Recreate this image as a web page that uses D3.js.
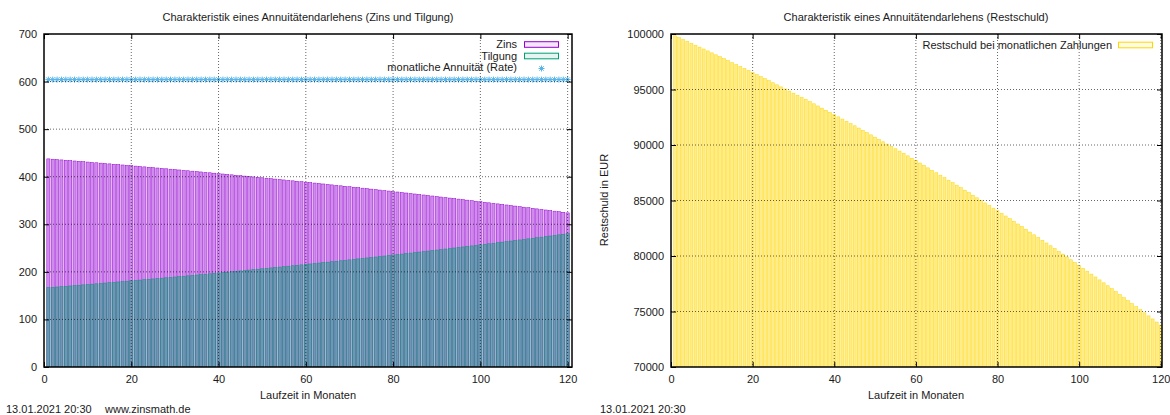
<!DOCTYPE html>
<html>
<head>
<meta charset="utf-8">
<script src="https://cdn.jsdelivr.net/npm/d3@7/dist/d3.min.js"></script>
<style>
  html, body { margin: 0; padding: 0; background: #fff; }
  svg { display: block; }
  text { font-family: "Liberation Sans", Arial, Helvetica, sans-serif; fill: #1a1a1a; }
</style>
</head>
<body>
<svg id="chart" width="1170" height="415"></svg>
<script>
// ---------------- DATA ----------------
const months = [
  1,2,3,4,5,6,7,8,9,10,11,12,13,14,15,16,17,18,19,20,
  21,22,23,24,25,26,27,28,29,30,31,32,33,34,35,36,37,38,39,40,
  41,42,43,44,45,46,47,48,49,50,51,52,53,54,55,56,57,58,59,60,
  61,62,63,64,65,66,67,68,69,70,71,72,73,74,75,76,77,78,79,80,
  81,82,83,84,85,86,87,88,89,90,91,92,93,94,95,96,97,98,99,100,
  101,102,103,104,105,106,107,108,109,110,111,112,113,114,115,116,117,118,119,120
];
const zins = [
  437.50,436.77,436.04,435.30,434.56,433.82,433.07,432.32,431.57,430.81,
  430.05,429.30,428.53,427.76,426.99,426.21,425.43,424.65,423.86,423.07,
  422.30,421.50,420.70,419.90,419.09,418.28,417.47,416.65,415.83,415.01,
  414.18,413.35,412.52,411.68,410.84,409.99,409.14,408.29,407.43,406.57,
  405.70,404.83,403.96,403.08,402.20,401.32,400.43,399.54,398.64,397.74,
  396.85,395.94,395.03,394.12,393.20,392.28,391.35,390.42,389.49,388.55,
  387.60,386.65,385.70,384.74,383.78,382.82,381.85,380.88,379.90,378.92,
  377.93,376.94,375.95,374.95,373.95,372.94,371.93,370.91,369.89,368.86,
  367.84,366.81,365.77,364.73,363.68,362.63,361.57,360.51,359.44,358.37,
  357.29,356.21,355.12,354.03,352.94,351.84,350.74,349.63,348.52,347.40,
  346.28,345.15,344.02,342.88,341.74,340.59,339.44,338.28,337.12,335.95,
  334.77,333.59,332.41,331.22,330.03,328.83,327.62,326.41,325.20,323.98
];
const tilgung = [
  166.67,167.40,168.13,168.87,169.61,170.35,171.10,171.85,172.60,173.36,
  174.12,174.87,175.64,176.41,177.18,177.96,178.74,179.52,180.31,181.10,
  181.87,182.67,183.47,184.27,185.08,185.89,186.70,187.52,188.34,189.16,
  189.99,190.82,191.65,192.49,193.33,194.18,195.03,195.88,196.74,197.60,
  198.47,199.34,200.21,201.09,201.97,202.85,203.74,204.63,205.53,206.43,
  207.32,208.23,209.14,210.05,210.97,211.89,212.82,213.75,214.68,215.62,
  216.57,217.52,218.47,219.43,220.39,221.35,222.32,223.29,224.27,225.25,
  226.24,227.23,228.22,229.22,230.22,231.23,232.24,233.26,234.28,235.31,
  236.33,237.36,238.40,239.44,240.49,241.54,242.60,243.66,244.73,245.80,
  246.88,247.96,249.05,250.14,251.23,252.33,253.43,254.54,255.65,256.77,
  257.89,259.02,260.15,261.29,262.43,263.58,264.73,265.89,267.05,268.22,
  269.40,270.58,271.76,272.95,274.14,275.34,276.55,277.76,278.97,280.19
];
const rate = [
  604.17,604.17,604.17,604.17,604.17,604.17,604.17,604.17,604.17,604.17,
  604.17,604.17,604.17,604.17,604.17,604.17,604.17,604.17,604.17,604.17,
  604.17,604.17,604.17,604.17,604.17,604.17,604.17,604.17,604.17,604.17,
  604.17,604.17,604.17,604.17,604.17,604.17,604.17,604.17,604.17,604.17,
  604.17,604.17,604.17,604.17,604.17,604.17,604.17,604.17,604.17,604.17,
  604.17,604.17,604.17,604.17,604.17,604.17,604.17,604.17,604.17,604.17,
  604.17,604.17,604.17,604.17,604.17,604.17,604.17,604.17,604.17,604.17,
  604.17,604.17,604.17,604.17,604.17,604.17,604.17,604.17,604.17,604.17,
  604.17,604.17,604.17,604.17,604.17,604.17,604.17,604.17,604.17,604.17,
  604.17,604.17,604.17,604.17,604.17,604.17,604.17,604.17,604.17,604.17,
  604.17,604.17,604.17,604.17,604.17,604.17,604.17,604.17,604.17,604.17,
  604.17,604.17,604.17,604.17,604.17,604.17,604.17,604.17,604.17,604.17
];
const restschuld = [
  99833,99666,99498,99329,99159,98989,98818,98646,98473,98300,
  98126,97951,97775,97599,97422,97244,97065,96886,96705,96524,
  96342,96160,95976,95792,95607,95421,95234,95047,94858,94669,
  94479,94288,94097,93904,93711,93517,93322,93126,92929,92732,
  92533,92334,92134,91932,91730,91528,91324,91119,90914,90707,
  90500,90292,90083,89873,89662,89450,89237,89023,88808,88593,
  88376,88159,87940,87721,87500,87279,87057,86833,86609,86384,
  86158,85930,85702,85473,85243,85012,84779,84546,84312,84076,
  83840,83603,83364,83125,82884,82643,82400,82157,81912,81666,
  81419,81171,80922,80672,80421,80169,79915,79661,79405,79148,
  78890,78631,78371,78110,77847,77584,77319,77053,76786,76518,
  76249,75978,75706,75433,75159,74884,74607,74329,74050,73770
];
const xTicks = [0, 20, 40, 60, 80, 100, 120];
const yTicksLeft = [0, 100, 200, 300, 400, 500, 600, 700];
const yTicksRight = [70000, 75000, 80000, 85000, 90000, 95000, 100000];

const titleLeft = "Charakteristik eines Annuitätendarlehens (Zins und Tilgung)";
const titleRight = "Charakteristik eines Annuitätendarlehens (Restschuld)";
const xLabel = "Laufzeit in Monaten";
const yLabelRight = "Restschuld in EUR";
const legendLeft = ["Zins", "Tilgung", "monatliche Annuität (Rate)"];
const legendRight = "Restschuld bei monatlichen Zahlungen";
const footerDate = "13.01.2021 20:30";
const footerUrl = "www.zinsmath.de";

// ---------------- STYLE ----------------
const C_ZINS = "#9400d3", C_TILG = "#009e73", C_RATE = "#56b4e9", C_REST = "#ffd700";
const FS = 11;
const BW = 0.72;
const SW = 0.5;

const svg = d3.select("#chart");

const starPath = "M-3,0H3M0,-3V3M-2.2,-2.2L2.2,2.2M-2.2,2.2L2.2,-2.2";

function frameAxes(g, x, y, yTicks, yFmt, L, R, T, B) {
  const grid = g.append("g").attr("stroke", "#000").attr("stroke-width", 0.8)
    .attr("stroke-dasharray", "1,2").attr("opacity", 0.75);
  xTicks.filter(v => v > x.domain()[0]).forEach(v => {
    grid.append("line").attr("x1", x(v)).attr("x2", x(v)).attr("y1", T).attr("y2", B);
  });
  yTicks.filter(v => v > y.domain()[0] && v < y.domain()[1]).forEach(v => {
    grid.append("line").attr("x1", L).attr("x2", R).attr("y1", y(v)).attr("y2", y(v));
  });
  const ax = (sel) => { sel.select(".domain").remove();
    sel.selectAll(".tick line").attr("stroke", "#000").attr("stroke-width", 1);
    sel.selectAll("text").attr("font-size", FS).attr("fill", "#1a1a1a")
       .attr("font-family", '"Liberation Sans", Arial, sans-serif'); };
  g.append("g").attr("transform", `translate(0,${B})`)
    .call(d3.axisBottom(x).tickValues(xTicks).tickSize(-5).tickPadding(8)).call(ax);
  g.append("g").attr("transform", `translate(0,${T})`)
    .call(d3.axisTop(x).tickValues(xTicks).tickSize(-5).tickFormat("")).call(ax);
  g.append("g").attr("transform", `translate(${L},0)`)
    .call(d3.axisLeft(y).tickValues(yTicks).tickSize(-5).tickPadding(7).tickFormat(yFmt)).call(ax);
  g.append("g").attr("transform", `translate(${R},0)`)
    .call(d3.axisRight(y).tickValues(yTicks).tickSize(-5).tickFormat("")).call(ax);
  g.append("rect").attr("x", L).attr("y", T).attr("width", R - L).attr("height", B - T)
    .attr("fill", "none").attr("stroke", "#000").attr("stroke-width", 1.5);
}

// ---------------- LEFT CHART ----------------
{
  const L = 44, R = 572, T = 34, B = 367;
  const x = d3.scaleLinear().domain([0, 121]).range([L, R]);
  const y = d3.scaleLinear().domain([0, 700]).range([B, T]);
  const g = svg.append("g");
  g.append("defs").append("clipPath").attr("id", "clipL")
    .append("rect").attr("x", L).attr("y", T).attr("width", R - L).attr("height", B - T);
  const plot = g.append("g").attr("clip-path", "url(#clipL)");
  const w = x(BW) - x(0);

  plot.append("g").selectAll("rect").data(months).join("rect")
    .attr("x", (m) => x(m - BW / 2)).attr("width", w)
    .attr("y", (m, i) => y(zins[i])).attr("height", (m, i) => y(0) - y(zins[i]))
    .attr("fill", C_ZINS).attr("fill-opacity", 0.45)
    .attr("stroke", C_ZINS).attr("stroke-width", SW);

  plot.append("g").selectAll("rect").data(months).join("rect")
    .attr("x", (m) => x(m - BW / 2)).attr("width", w)
    .attr("y", (m, i) => y(tilgung[i])).attr("height", (m, i) => y(0) - y(tilgung[i]))
    .attr("fill", C_TILG).attr("fill-opacity", 0.45)
    .attr("stroke", C_TILG).attr("stroke-width", SW);

  plot.append("g").selectAll("path").data(months).join("path")
    .attr("transform", (m, i) => `translate(${x(m)},${y(rate[i])})`)
    .attr("d", starPath).attr("fill", "none").attr("stroke", C_RATE).attr("stroke-width", 1);

  frameAxes(g, x, y, yTicksLeft, d3.format("d"), L, R, T, B);

  const lg = g.append("g");
  const tx = 517, bx = 524.5, bw = 34;
  const rows = [44.5, 56, 67.5];
  legendLeft.forEach((t, i) => {
    lg.append("text").attr("x", tx).attr("y", rows[i]).attr("dy", "0.35em")
      .attr("text-anchor", "end").attr("font-size", FS).text(t);
  });
  lg.append("rect").attr("x", bx).attr("y", rows[0] - 2.8).attr("width", bw).attr("height", 5.6)
    .attr("fill", C_ZINS).attr("fill-opacity", 0.1).attr("stroke", C_ZINS).attr("stroke-width", 1);
  lg.append("rect").attr("x", bx).attr("y", rows[1] - 2.8).attr("width", bw).attr("height", 5.6)
    .attr("fill", C_TILG).attr("fill-opacity", 0.1).attr("stroke", C_TILG).attr("stroke-width", 1);
  lg.append("path").attr("transform", `translate(${bx + bw / 2},${rows[2] + 1})`)
    .attr("d", starPath).attr("fill", "none").attr("stroke", C_RATE).attr("stroke-width", 1);

  g.append("text").attr("x", 308).attr("y", 17).attr("dy", "0.35em").attr("text-anchor", "middle")
    .attr("font-size", FS).text(titleLeft);
  g.append("text").attr("x", 308).attr("y", 395).attr("dy", "0.35em").attr("text-anchor", "middle")
    .attr("font-size", FS).text(xLabel);
  g.append("text").attr("x", 6).attr("y", 409).attr("dy", "0.35em")
    .attr("font-size", FS).text(footerDate);
  g.append("text").attr("x", 105).attr("y", 409).attr("dy", "0.35em")
    .attr("font-size", FS).text(footerUrl);
}

// ---------------- RIGHT CHART ----------------
{
  const L = 671, R = 1162, T = 34, B = 367;
  const x = d3.scaleLinear().domain([0, 120.3]).range([L, R]);
  const y = d3.scaleLinear().domain([70000, 100000]).range([B, T]);
  const g = svg.append("g");
  g.append("defs").append("clipPath").attr("id", "clipR")
    .append("rect").attr("x", L).attr("y", T).attr("width", R - L).attr("height", B - T);
  const plot = g.append("g").attr("clip-path", "url(#clipR)");
  const w = x(BW) - x(0);

  plot.append("g").selectAll("rect").data(months).join("rect")
    .attr("x", (m) => x(m - BW / 2)).attr("width", w)
    .attr("y", (m, i) => y(restschuld[i])).attr("height", (m, i) => y(70000) - y(restschuld[i]))
    .attr("fill", C_REST).attr("fill-opacity", 0.45)
    .attr("stroke", C_REST).attr("stroke-width", SW);

  frameAxes(g, x, y, yTicksRight, d3.format("d"), L, R, T, B);

  const lg = g.append("g");
  lg.append("text").attr("x", 1112).attr("y", 45).attr("dy", "0.35em")
    .attr("text-anchor", "end").attr("font-size", FS).text(legendRight);
  lg.append("rect").attr("x", 1118.5).attr("y", 42.2).attr("width", 34).attr("height", 5.6)
    .attr("fill", C_REST).attr("fill-opacity", 0.1).attr("stroke", C_REST).attr("stroke-width", 1);

  g.append("text").attr("x", 916).attr("y", 17).attr("dy", "0.35em").attr("text-anchor", "middle")
    .attr("font-size", FS).text(titleRight);
  g.append("text").attr("x", 916).attr("y", 395).attr("dy", "0.35em").attr("text-anchor", "middle")
    .attr("font-size", FS).text(xLabel);
  g.append("text").attr("transform", "translate(604,200) rotate(-90)").attr("dy", "0.35em")
    .attr("text-anchor", "middle").attr("font-size", FS).text(yLabelRight);
  g.append("text").attr("x", 600).attr("y", 409).attr("dy", "0.35em")
    .attr("font-size", FS).text(footerDate);
}
</script>
</body>
</html>
